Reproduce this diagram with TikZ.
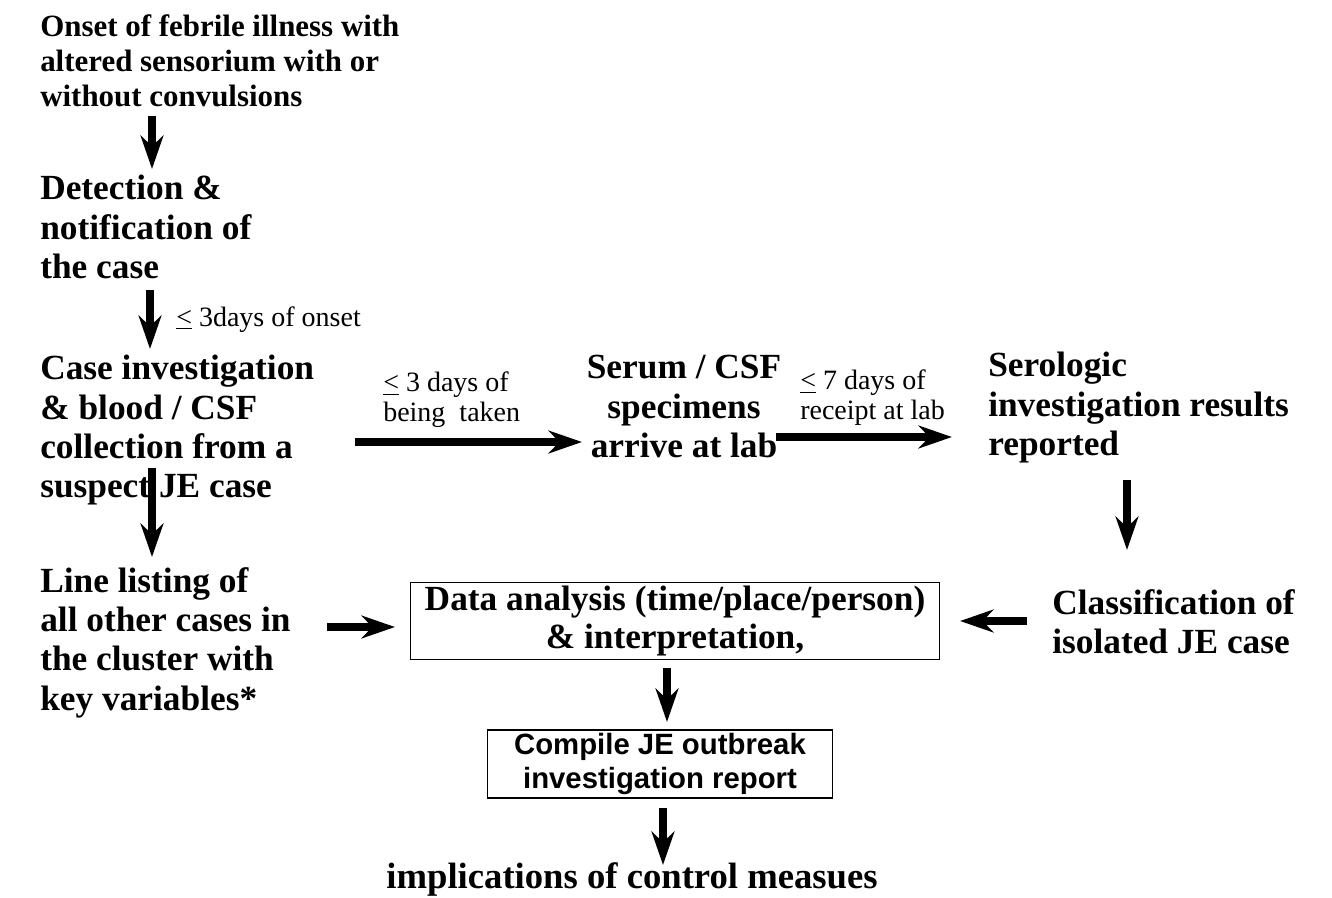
\documentclass[tikz,border=0pt]{standalone}
\usepackage{fontspec}
\setmainfont{Liberation Serif}
\newfontfamily\boxsans{Liberation Sans}
\usetikzlibrary{arrows.meta,positioning}

\begin{document}
\begin{tikzpicture}[
    x=0.75pt,y=-0.75pt,
    >={Stealth[length=25pt,width=17pt,inset=8pt]},
    stage/.style={anchor=north west,align=left,inner sep=0pt,
      font=\fontsize{26.5}{29.5}\selectfont\bfseries},
    note/.style={anchor=north west,align=left,inner sep=0pt,
      font=\fontsize{21}{22.5}\selectfont},
    frame/.style={draw,line width=0.9pt,align=center,inner sep=0pt},
    flow/.style={->,line width=6pt},
  ]
    \useasboundingbox (0,0) rectangle (1332,897);

    % left column
    \node[stage,font=\fontsize{23.2}{26.5}\selectfont\bfseries] (onset) at (40,14)
      {Onset of febrile illness with\\altered sensorium with or\\without convulsions};
    \node[stage] (detect) at (40,175) {Detection \&\\notification of\\the case};
    \node[stage] (caseinv) at (40,355)
      {Case investigation\\\& blood / CSF\\collection from a\\suspect JE case};
    \node[stage] (linelist) at (40,567)
      {Line listing of\\all other cases in\\the cluster with\\key variables*};

    % lab path
    \node[stage,anchor=north,align=center] (serum) at (684,355)
      {Serum / CSF\\specimens\\arrive at lab};
    \node[stage] (serologic) at (988,352)
      {Serologic\\investigation results\\reported};
    \node[stage] (classif) at (1052,589) {Classification of\\isolated JE case};

    % boxes
    \node[frame,minimum width=397pt,minimum height=58pt,
      font=\fontsize{26.5}{28}\selectfont\bfseries] (analysis) at (675,621)
      {Data analysis (time/place/person)\\\& interpretation,};
    \node[frame,minimum width=259pt,minimum height=51pt,
      font=\fontsize{22}{26}\selectfont\boxsans\bfseries] (compile) at (660,764)
      {Compile JE outbreak\\investigation report};
    \node[stage,anchor=north,align=center,font=\fontsize{27.5}{30}\selectfont\bfseries]
      (implic) at (632,862) {implications of control measues};

    % time limits
    \node[note,anchor=west] (lim1) at (176,320) {\underline{<} 3days of onset};
    \node[note] (lim2) at (383,372) {\underline{<} 3 days of\\being~ taken};
    \node[note] (lim3) at (800,370) {\underline{<} 7 days of\\receipt at lab};

    % arrow ends
    \coordinate (a1s) at (152,116);  \coordinate (a1e) at (152,169);
    \coordinate (a2s) at (150,290);  \coordinate (a2e) at (150,349);
    \coordinate (a3s) at (152,468);  \coordinate (a3e) at (152,557);
    \coordinate (h1s) at (355,442);  \coordinate (h1e) at (582,442);
    \coordinate (h2s) at (776,437);  \coordinate (h2e) at (952,437);
    \coordinate (a4s) at (1127,480); \coordinate (a4e) at (1127,550);
    \coordinate (h3s) at (327,627);  \coordinate (h3e) at (395,627);
    \coordinate (h4s) at (1027,621); \coordinate (h4e) at (960,621);
    \coordinate (a5s) at (667,668);  \coordinate (a5e) at (667,722);
    \coordinate (a6s) at (663,808);  \coordinate (a6e) at (663,865);

    \draw[flow] (a1s) -- (a1e);
    \draw[flow] (a2s) -- (a2e);
    \draw[flow] (a3s) -- (a3e);
    \draw[flow] (h1s) -- (h1e);
    \draw[flow] (h2s) -- (h2e);
    \draw[flow] (a4s) -- (a4e);
    \draw[flow] (h3s) -- (h3e);
    \draw[flow] (h4s) -- (h4e);
    \draw[flow] (a5s) -- (a5e);
    \draw[flow] (a6s) -- (a6e);
  \end{tikzpicture}
\end{document}
